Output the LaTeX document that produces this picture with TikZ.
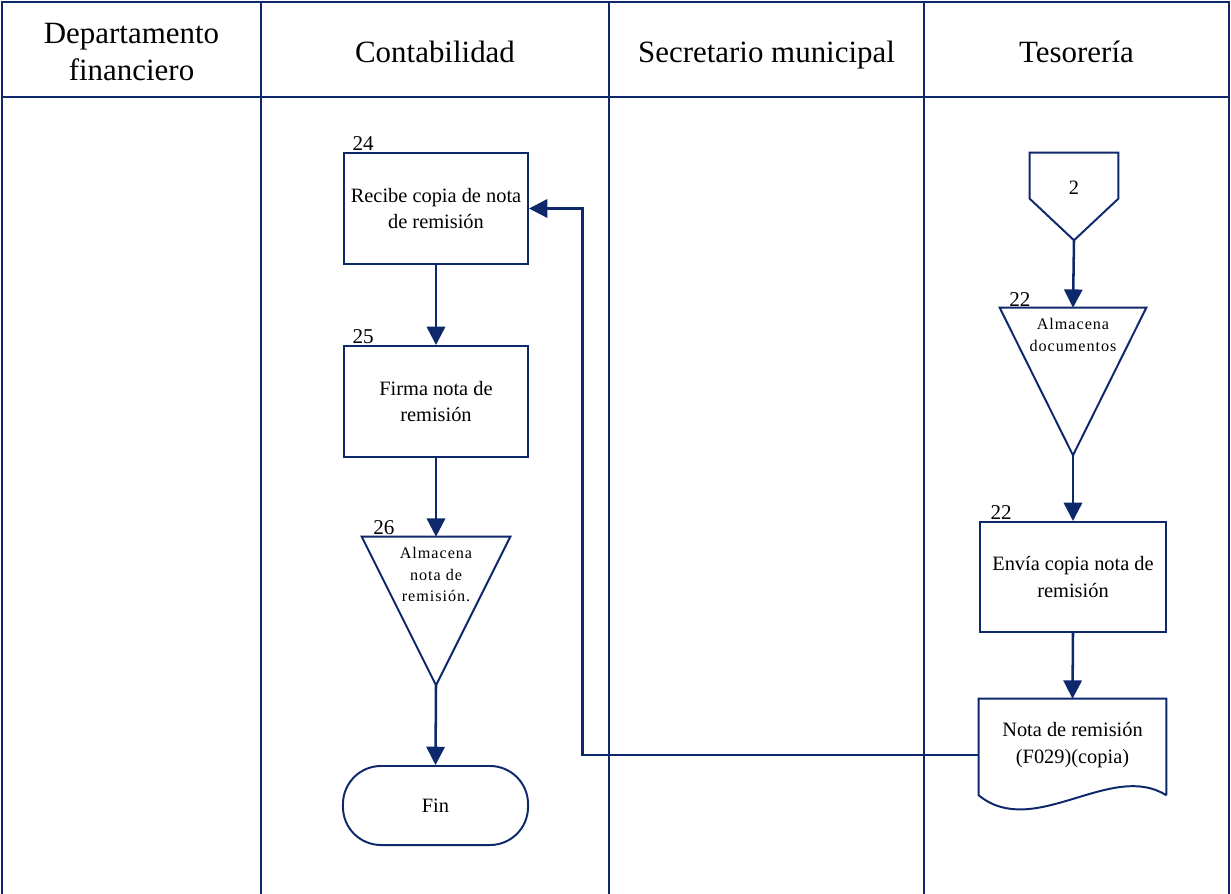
\documentclass[tikz,border=0pt]{standalone}
\usepackage{fontspec}
\setmainfont{Liberation Serif}
\newfontfamily\storefont[LetterSpace=6]{Liberation Serif}
\usepackage{xcolor}
\usepackage{tikz}
\usetikzlibrary{arrows.meta,positioning,calc}
\definecolor{flowblue}{RGB}{14,40,108}

\begin{document}
\begin{tikzpicture}[
    x=0.025cm, y=-0.025cm,
    lane/.style={draw=flowblue, line width=1.4pt},
    headtxt/.style={align=center, font=\fontsize{22}{26}\selectfont},
    procbox/.style={rectangle, draw=flowblue, fill=white, line width=1.4pt, minimum width=4.6cm, minimum height=2.775cm, align=center, inner sep=2pt, font=\fontsize{14.5}{19}\selectfont},
    shapebox/.style={rectangle, draw=none, inner sep=0pt},
    shapeline/.style={draw=flowblue, fill=white, line width=1.4pt, line join=miter},
    storetxt/.style={align=center, inner sep=0pt, font=\storefont\fontsize{11.5}{15.5}\selectfont},
    endbox/.style={rectangle, draw=flowblue, fill=white, line width=1.4pt, minimum width=4.625cm, minimum height=1.975cm, rounded corners=0.95cm, font=\fontsize{14.5}{19}\selectfont},
    numlbl/.style={anchor=south west, inner sep=1pt, font=\fontsize{15}{17}\selectfont},
    flow/.style={-{Triangle[length=13pt, width=13pt]}, draw=flowblue, line width=1.8pt},
  ]
    \useasboundingbox (0,0) rectangle (1231,894);

    % Swimlanes
    \draw[lane] (2,894) -- (2,2) -- (1229,2) -- (1229,894);
    \draw[lane] (2,97) -- (1229,97);
    \draw[lane] (261,2) -- (261,894);
    \draw[lane] (609,2) -- (609,894);
    \draw[lane] (924,2) -- (924,894);

    % Lane titles
    \node[headtxt] (hdep) at (131.5,52) {Departamento\\financiero};
    \node[headtxt, anchor=base] (hcon) at (435,62) {Contabilidad};
    \node[headtxt, anchor=base] (hsec) at (766.5,62) {Secretario municipal};
    \node[headtxt, anchor=base] (htes) at (1076.5,62) {Tesorería};

    % Tesoreria
    \node[shapebox, minimum width=2.2cm, minimum height=2.175cm] (c2) at (1074,196.5) {};
    \draw[shapeline] (c2.north west) -- (c2.north east) -- ($(c2.north east)+(0,46)$) -- (c2.south) -- ($(c2.north west)+(0,46)$) -- cycle;
    \node[font=\fontsize{14.5}{17}\selectfont] at ($(c2.north)+(0,35)$) {2};

    \node[shapebox, minimum width=3.65cm, minimum height=3.675cm] (t22) at (1073,381.5) {};
    \draw[shapeline] (t22.north west) -- (t22.north east) -- (t22.south) -- cycle;
    \node[storetxt, below=0.25cm of t22.north] {Almacena\\documentos};
    \node[numlbl] at ([xshift=0.2cm]t22.north west) {22};

    \node[procbox, minimum width=4.65cm, minimum height=2.75cm] (b22) at (1073,577) {Envía copia nota de\\remisión};
    \node[numlbl] at ([xshift=0.25cm]b22.north west) {22};

    \node[shapebox, minimum width=4.675cm, minimum height=2.4cm] (doc) at (1072.5,747) {};
    \draw[shapeline] (doc.south east) -- (doc.north east) -- (doc.north west) -- (doc.south west) .. controls +(55,45) and +(-55,-35) .. (doc.south east);
    \node[align=center, font=\fontsize{14.5}{19}\selectfont] at ($(doc.center)+(0,-2)$) {Nota de remisión\\(F029)(copia)};

    % Contabilidad
    \node[procbox] (b24) at (436,208.5) {Recibe copia de nota\\de remisión};
    \node[numlbl] at ([xshift=0.2cm]b24.north west) {24};

    \node[procbox] (b25) at (436,401.5) {Firma nota de\\remisión};
    \node[numlbl] at ([xshift=0.2cm]b25.north west) {25};

    \node[shapebox, minimum width=3.7cm, minimum height=3.7cm] (t26) at (436,611) {};
    \draw[shapeline] (t26.north west) -- (t26.north east) -- (t26.south) -- cycle;
    \node[storetxt, below=0.25cm of t26.north] {Almacena\\nota de\\remisión.};
    \node[numlbl] at ([xshift=0.25cm]t26.north west) {26};

    \node[endbox] (fin) at (435.5,805.5) {Fin};

    % Flow arrows
    \draw[flow] (c2.south) -- (t22.north);
    \draw[flow] (t22.south) -- (b22.north);
    \draw[flow] (b22.south) -- (doc.north);
    \draw[flow] ([yshift=-0.2cm]doc.west) -- ++(-396,0) |- (b24.east);
    \draw[flow] (b24.south) -- (b25.north);
    \draw[flow] (b25.south) -- (t26.north);
    \draw[flow] (t26.south) -- (fin.north);

  \end{tikzpicture}
\end{document}
